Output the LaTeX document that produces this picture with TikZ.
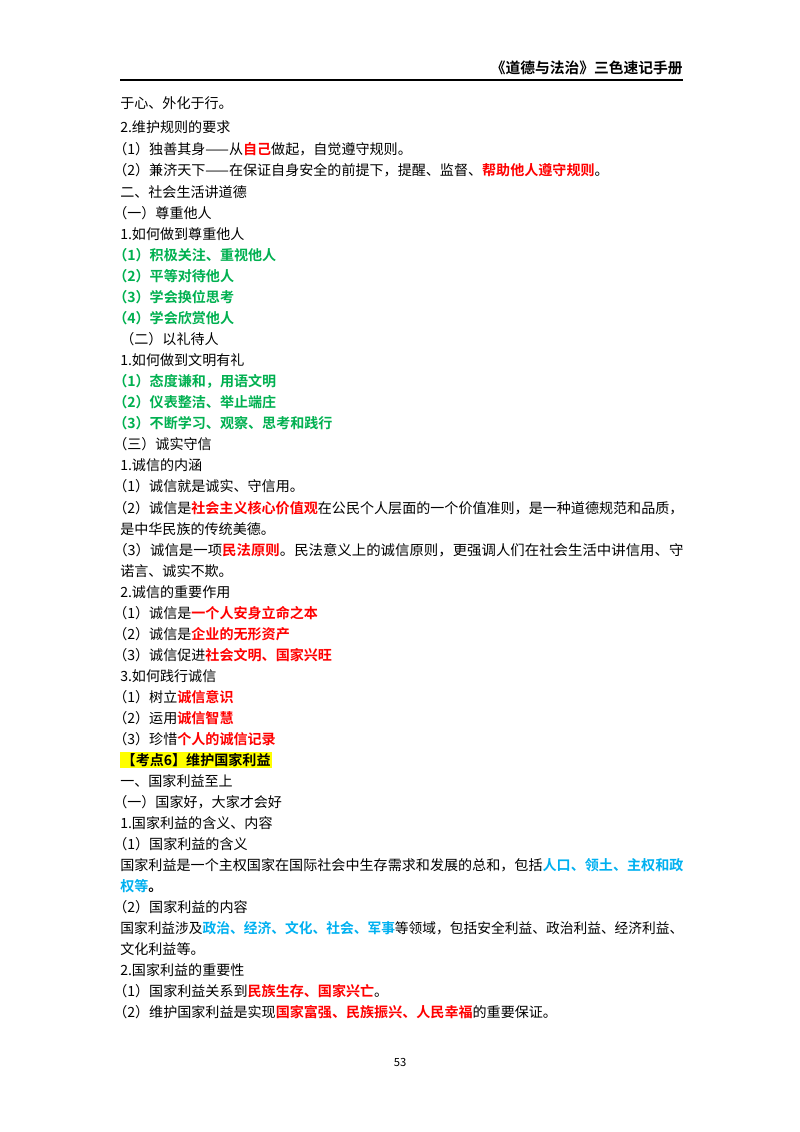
\documentclass[tikz,border=0pt]{standalone}
\usepackage{graphicx}
\usepackage{fontspec}
\setmainfont{Noto Sans CJK SC}[BoldFont={* Bold}]
\definecolor{keyred}{RGB}{255,0,0}
\definecolor{keygreen}{RGB}{0,176,80}
\definecolor{keyblue}{RGB}{0,176,240}
\definecolor{hiyellow}{RGB}{255,255,0}
\newcommand{\rd}[1]{\textbf{\textcolor{keyred}{#1}}}
\newcommand{\bl}[1]{\textbf{\textcolor{keyblue}{#1}}}
\newcommand{\fullline}[1]{\resizebox{14.25cm}{\height}{#1}}
\tikzset{
  ln/.style={anchor=west, inner sep=0pt, font=\fontsize{10pt}{15pt}\selectfont},
  gr/.style={ln, text=keygreen, font=\fontsize{10pt}{15pt}\selectfont\bfseries},
}
\begin{document}
\begin{tikzpicture}[x=0.025cm, y=-0.025cm]
            \useasboundingbox (0,0) rectangle (800,1132);

            % Header
            \node [ln, anchor=east, font=\fontsize{10.5pt}{12pt}\selectfont\bfseries] (head) at (683, 68) {《道德与法治》三色速记手册};
            \draw [thick] (120, 80) -- (683, 80);

            % Lines
            \node [ln] (l1) at (120, 103) {于心、外化于行。};
            \node [ln] (l2) at (120, 127) {2.维护规则的要求};
            \node [ln] (l3) at (113, 149) {（1）独善其身——从\rd{自己}做起，自觉遵守规则。};
            \node [ln] (l4) at (113, 170) {（2）兼济天下——在保证自身安全的前提下，提醒、监督、\rd{帮助他人遵守规则}。};
            \node [ln] (l5) at (120, 192) {二、社会生活讲道德};
            \node [ln] (l6) at (113, 213) {（一）尊重他人};
            \node [ln] (l7) at (120, 234) {1.如何做到尊重他人};
            \node [gr] (l8) at (113, 255) {（1）积极关注、重视他人};
            \node [gr] (l9) at (113, 276) {（2）平等对待他人};
            \node [gr] (l10) at (113, 297) {（3）学会换位思考};
            \node [gr] (l11) at (113, 318) {（4）学会欣赏他人};
            \node [ln] (l12) at (120, 339) {（二）以礼待人};
            \node [ln] (l13) at (120, 360) {1.如何做到文明有礼};
            \node [gr] (l14) at (113, 381) {（1）态度谦和，用语文明};
            \node [gr] (l15) at (113, 402) {（2）仪表整洁、举止端庄};
            \node [gr] (l16) at (113, 423) {（3）不断学习、观察、思考和践行};
            \node [ln] (l17) at (113, 444) {（三）诚实守信};
            \node [ln] (l18) at (120, 465) {1.诚信的内涵};
            \node [ln] (l19) at (113, 486) {（1）诚信就是诚实、守信用。};
            \node [ln] (l20) at (113, 508) {\fullline{（2）诚信是\rd{社会主义核心价值观}在公民个人层面的一个价值准则，是一种道德规范和品质，}};
            \node [ln] (l21) at (120, 529) {是中华民族的传统美德。};
            \node [ln] (l22) at (113, 550) {\fullline{（3）诚信是一项\rd{民法原则}。民法意义上的诚信原则，更强调人们在社会生活中讲信用、守}};
            \node [ln] (l23) at (120, 571) {诺言、诚实不欺。};
            \node [ln] (l24) at (120, 592) {2.诚信的重要作用};
            \node [ln] (l25) at (113, 613) {（1）诚信是\rd{一个人安身立命之本}};
            \node [ln] (l26) at (113, 634) {（2）诚信是\rd{企业的无形资产}};
            \node [ln] (l27) at (113, 655) {（3）诚信促进\rd{社会文明、国家兴旺}};
            \node [ln] (l28) at (120, 676) {3.如何践行诚信};
            \node [ln] (l29) at (113, 697) {（1）树立\rd{诚信意识}};
            \node [ln] (l30) at (113, 718) {（2）运用\rd{诚信智慧}};
            \node [ln] (l31) at (113, 739) {（3）珍惜\rd{个人的诚信记录}};

            % Key point
            \node [ln, fill=hiyellow, inner sep=1pt, font=\fontsize{10pt}{15pt}\selectfont\bfseries] (l32) at (120, 760) {【考点6】维护国家利益};
            \node [ln] (l33) at (120, 781) {一、国家利益至上};
            \node [ln] (l34) at (113, 802) {（一）国家好，大家才会好};
            \node [ln] (l35) at (120, 823) {1.国家利益的含义、内容};
            \node [ln] (l36) at (113, 844) {（1）国家利益的含义};
            \node [ln] (l37) at (120, 865) {\resizebox{14.075cm}{\height}{国家利益是一个主权国家在国际社会中生存需求和发展的总和，包括\bl{人口、领土、主权和政}}};
            \node [ln] (l38) at (120, 886) {\bl{权等}\textbf{。}};
            \node [ln] (l39) at (113, 907) {（2）国家利益的内容};
            \node [ln] (l40) at (120, 928) {\resizebox{14.075cm}{\height}{国家利益涉及\bl{政治、经济、文化、社会、军事}等领域，包括安全利益、政治利益、经济利益、}};
            \node [ln] (l41) at (120, 949) {文化利益等。};
            \node [ln] (l42) at (120, 970) {2.国家利益的重要性};
            \node [ln] (l43) at (113, 991) {（1）国家利益关系到\rd{民族生存、国家兴亡}。};
            \node [ln] (l44) at (113, 1012) {（2）维护国家利益是实现\rd{国家富强、民族振兴、人民幸福}的重要保证。};

            % Page number
            \node [ln, anchor=center, font=\fontsize{8pt}{10pt}\selectfont] (page) at (400, 1062) {53};
\end{tikzpicture}
\end{document}
